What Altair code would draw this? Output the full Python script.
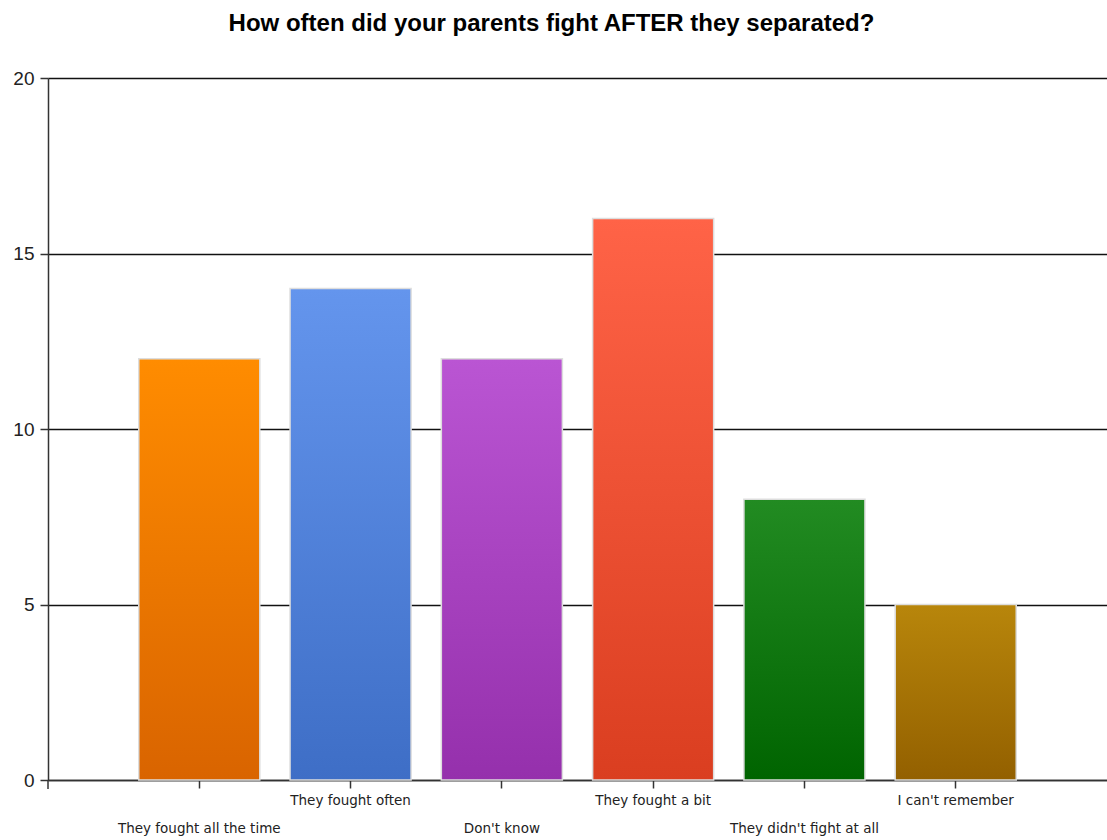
import json
import altair as alt
import pandas as pd

categories = [
    "They fought all the time",
    "They fought often",
    "Don't know",
    "They fought a bit",
    "They didn't fight at all",
    "I can't remember",
]
counts = [12, 14, 12, 16, 8, 5]
top_colors = ["#FF8C00", "#6495ED", "#BA55D3", "#FF6347", "#228B22", "#B8860B"]
bottom_colors = ["#D96400", "#3E6EC6", "#9530AC", "#DA3E20", "#006400", "#936000"]
y_ticks = [0, 5, 10, 15, 20]

df = pd.DataFrame({"category": categories, "count": counts})

lower_row = categories[0::2]
label_expr = (
    "indexof(" + json.dumps(lower_row) + ", datum.value) >= 0 ? ['', datum.label] : datum.label"
)

x_enc = alt.X(
    "category:N",
    sort=categories,
    scale=alt.Scale(paddingInner=0.2, paddingOuter=0.6),
    axis=alt.Axis(
        title=None,
        labelAngle=0,
        labelExpr=label_expr,
        labelFont="DejaVu Sans",
        labelFontSize=13.5,
        labelColor="#222222",
        labelLineHeight=28,
        labelPadding=5,
        labelOverlap=False,
        labelBaseline="top",
        tickSize=8,
        tickColor="#333333",
        tickWidth=1.5,
        domainColor="#333333",
        domainWidth=1.5,
        grid=False,
    ),
)
y_enc = alt.Y(
    "count:Q",
    scale=alt.Scale(domain=[0, 20], nice=False),
    axis=alt.Axis(
        title=None,
        values=y_ticks,
        labelFont="Liberation Sans",
        labelFontSize=19,
        labelColor="#222222",
        labelPadding=6,
        tickSize=8,
        tickColor="#333333",
        tickWidth=1.5,
        domainColor="#333333",
        domainWidth=1.5,
        grid=True,
        gridColor="#111111",
        gridWidth=1.3,
        gridOpacity=1,
    ),
)

base = alt.Chart(df)
layers = []
for i, cat in enumerate(categories):
    grad = alt.Gradient(
        gradient="linear",
        stops=[
            alt.GradientStop(color=top_colors[i], offset=0),
            alt.GradientStop(color=bottom_colors[i], offset=1),
        ],
        x1=0, x2=0, y1=0, y2=1,
    )
    layers.append(
        base.transform_filter(alt.datum.category == cat)
        .mark_bar(color=grad, stroke="#DDDDDD", strokeWidth=1.5)
        .encode(x=x_enc, y=y_enc)
    )

# small extension of the y-axis line below the x-axis
axis_ext = alt.Chart(pd.DataFrame({"a": [0]})).mark_rule(
    color="#333333", strokeWidth=1.5
).encode(x=alt.value(0), y=alt.value(702), y2=alt.value(711))
layers.append(axis_ext)

chart = (
    alt.layer(*layers)
    .properties(
        width=1059,
        height=702,
        title=alt.TitleParams(
            "How often did your parents fight AFTER they separated?",
            font="Liberation Sans",
            fontSize=24,
            fontWeight="bold",
            color="#000000",
            anchor="middle",
            dx=-26,
            offset=33,
        ),
        autosize=alt.AutoSizeParams(type="none"),
        padding={"left": 48, "top": 78, "right": 0, "bottom": 60},
    )
    .configure_view(stroke=None)
    .configure(background="white")
)

chart.save("out.html", embed_options={"renderer": "svg", "actions": False})
